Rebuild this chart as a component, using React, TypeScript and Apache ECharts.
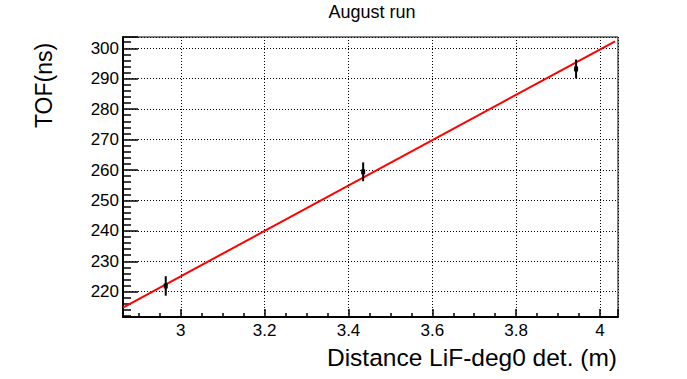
import React, { useEffect, useRef } from "react";
import * as echarts from "echarts";

const distances = [2.964, 3.435, 3.943];
const tofValues = [221.9, 259.4, 293.2];
const tofErrors = [3.2, 3.1, 3.1];
const fitX = [2.862, 4.036];
const fitY = [214.8, 302.3];
const xRange = [2.862, 4.043];
const yRange = [211.7, 303.7];
const titleText = "August run";
const xTitle = "Distance LiF-deg0 det. (m)";
const yTitle = "TOF(ns)";

const FONT = "'Liberation Sans', Arial, Helvetica, sans-serif";

export default function App() {
  const ref = useRef<HTMLDivElement>(null);
  useEffect(() => {
    if (!ref.current) return;
    const chart = echarts.init(ref.current, null, { renderer: "svg" });
    const points = distances.map((d, i) => [d, tofValues[i], tofErrors[i]]);
    const fit = fitX.map((x, i) => [x, fitY[i]]);
    chart.setOption({
      animation: false,
      backgroundColor: "#ffffff",
      textStyle: { fontFamily: FONT },
      grid: {
        left: 123,
        right: 69,
        top: 37,
        bottom: 62,
        show: true,
        borderColor: "#000",
        borderWidth: 1,
        backgroundColor: "transparent",
      },
      xAxis: {
        type: "value",
        min: xRange[0],
        max: xRange[1],
        splitNumber: 6,
        axisLine: { show: true, onZero: false, lineStyle: { color: "#000", width: 2 } },
        axisTick: { show: true, inside: true, length: 8, lineStyle: { color: "#000", width: 1.5 } },
        minorTick: { show: true, splitNumber: 4, length: 4, lineStyle: { color: "#000", width: 1.5 } },
        axisLabel: {
          show: true,
          margin: 5,
          fontSize: 17,
          color: "#000",
          fontFamily: FONT,
          showMinLabel: false,
          showMaxLabel: false,
          formatter: (v: number) => String(Math.round(v * 10) / 10),
        },
        splitLine: { show: true, lineStyle: { color: "#000", width: 1, type: [1, 2] } },
      },
      yAxis: {
        type: "value",
        min: yRange[0],
        max: yRange[1],
        splitNumber: 9,
        axisLine: { show: true, onZero: false, lineStyle: { color: "#000", width: 2 } },
        axisTick: { show: true, inside: true, length: 15, lineStyle: { color: "#000", width: 1.5 } },
        minorTick: { show: true, splitNumber: 5, length: 8, lineStyle: { color: "#000", width: 1.5 } },
        axisLabel: {
          show: true,
          margin: 4,
          fontSize: 17,
          color: "#000",
          fontFamily: FONT,
          showMinLabel: false,
          showMaxLabel: false,
          formatter: (v: number) => String(Math.round(v)),
        },
        splitLine: { show: true, lineStyle: { color: "#000", width: 1, type: [1, 2] } },
      },
      series: [
        {
          type: "line",
          data: fit,
          showSymbol: false,
          symbol: "none",
          lineStyle: { color: "#ff0000", width: 2 },
          z: 3,
        },
        {
          type: "custom",
          data: points,
          z: 4,
          renderItem: (params: any, api: any) => {
            const x = api.value(0);
            const y = api.value(1);
            const e = api.value(2);
            const top = api.coord([x, y + e]);
            const bot = api.coord([x, y - e]);
            const c = api.coord([x, y]);
            return {
              type: "group",
              children: [
                {
                  type: "line",
                  shape: { x1: top[0], y1: top[1], x2: bot[0], y2: bot[1] },
                  style: { stroke: "#000", lineWidth: 2 },
                },
                {
                  type: "rect",
                  shape: { x: c[0] - 2, y: c[1] - 2.5, width: 4, height: 5 },
                  style: { fill: "#000" },
                },
              ],
            };
          },
        },
      ],
      graphic: [
        {
          type: "text",
          x: 372,
          y: 12,
          style: {
            text: titleText,
            font: `18px ${FONT}`,
            fill: "#000",
            align: "center",
            verticalAlign: "middle",
          },
        },
        {
          type: "text",
          x: 44,
          y: 85.5,
          rotation: Math.PI / 2,
          style: {
            text: yTitle,
            font: `23px ${FONT}`,
            fill: "#000",
            align: "center",
            verticalAlign: "middle",
          },
        },
        {
          type: "text",
          x: 617,
          y: 357.5,
          style: {
            text: xTitle,
            font: `24.5px ${FONT}`,
            fill: "#000",
            align: "right",
            verticalAlign: "middle",
          },
        },
      ],
    });
    return () => chart.dispose();
  }, []);
  return (
    <div
      ref={ref}
      style={{ position: "absolute", left: 0, top: 0, width: 687, height: 379 }}
    />
  );
}
